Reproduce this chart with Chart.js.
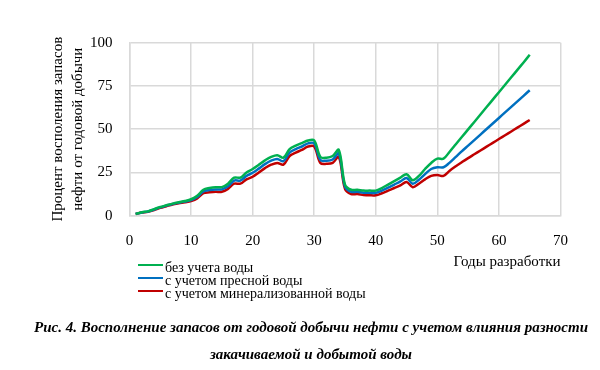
<!DOCTYPE html>
<html>
<head>
<meta charset="utf-8">
<script src="https://cdn.jsdelivr.net/npm/chart.js@4"></script>
<style>
  html, body { margin: 0; padding: 0; background: #fff; }
  #wrap { position: relative; width: 600px; height: 370px; }
  #c { position: absolute; left: 0; top: 0; }
  .legend { position: absolute; left: 138px; top: 260.5px; font-family: "Liberation Serif", "Times New Roman", serif; font-size: 14px; color: #000; }
  .legend .row { position: relative; height: 13.3px; line-height: 13.3px; white-space: nowrap; }
  .legend .sw { position: absolute; left: 0; top: 3px; width: 25px; height: 2px; }
  .legend .tx { position: absolute; left: 27px; top: 0; }
  .caption { position: absolute; left: 22px; width: 578px; top: 314px; text-align: center; font-family: "Liberation Serif", "Times New Roman", serif; font-weight: bold; font-style: italic; font-size: 15px; line-height: 27px; color: #000; }
</style>
</head>
<body>
<div id="wrap">
  <canvas id="c" width="600" height="370"></canvas>
  <div class="legend" id="legend"></div>
  <div class="caption">Рис. 4. Восполнение запасов от годовой добычи нефти с учетом влияния разности<br>закачиваемой и добытой воды</div>
</div>
<script>
const years = [1,2,3,4,5,6,7,8,9,10,11,12,13,14,15,16,17,18,19,20,21,22,23,24,25,26,27,28,29,30,31,32,33,34,35,36,37,38,39,40,41,42,43,44,45,46,47,48,49,50,51,52,53,54,55,56,57,58,59,60,61,62,63,64,65];

const seriesNames = ["без учета воды", "с учетом пресной воды", "с учетом минерализованной воды"];

const noWater = [1,2,2.5,3.8,5,6,7,7.8,8.5,9.5,11.5,15,16,16.5,16.5,18.5,22,22,25,27,29.5,32,34,35,33.5,38.5,40.5,42,43.5,43.5,34,33.5,34.5,38,18,15,15,14.5,14.5,14.5,16,18,20,22,24,20.5,23,27,30.5,33,33,37,41.3,45.6,49.9,54.2,58.5,62.8,67.1,71.4,75.7,80,84.3,88.6,93];

const freshWater = [1,1.9,2.4,3.6,4.8,5.8,6.8,7.5,8.2,9,10.8,14,14.8,15.2,15.2,17,20.3,20.3,23,24.8,27.2,29.8,31.8,32.8,31.5,36.5,38.5,40,41.8,41.8,32.2,31.8,32.5,36,16.8,13.8,13.8,13.3,13.2,13.2,14.5,16.2,18,19.8,21.8,18.5,20.8,24,27,28,28,30.7,34,37.3,40.5,43.7,46.9,50.1,53.3,56.5,59.7,62.9,66.1,69.3,72.5];

const mineralWater = [1,1.8,2.2,3.3,4.5,5.5,6.5,7.2,7.8,8.5,10,13,13.5,13.8,13.8,15.5,18.5,18.5,21,22.5,25,27.5,29.5,30.5,29.5,34.5,36.5,38,40,40,30.5,30,30.5,34,15.5,12.5,12.5,12,11.8,11.8,13,14.5,16,17.5,19.5,16.5,18.5,21,23,23.5,23,26,28.6,31,33.3,35.5,37.7,39.9,42.1,44.3,46.5,48.7,50.9,53.1,55.3];

const xTicks = [0,10,20,30,40,50,60,70];
const yTicks = [0,25,50,75,100];
const colors = ["#00B050", "#0070C0", "#C00000"];
const values = [noWater, freshWater, mineralWater];

const serif = "'Liberation Serif', 'Times New Roman', serif";
const gridColor = "#d9d9d9";

const datasets = values.map((v, i) => ({
  label: seriesNames[i],
  data: years.map((x, j) => ({x: x, y: v[j]})),
  borderColor: colors[i],
  backgroundColor: colors[i],
  borderWidth: 2.5,
  pointRadius: 0,
  tension: 0.35,
  fill: false
}));

new Chart(document.getElementById('c'), {
  type: 'line',
  data: { datasets },
  options: {
    responsive: false,
    animation: false,
    devicePixelRatio: 1,
    layout: { padding: { left: 40, right: 39.5, top: 42.7, bottom: 99.3 } },
    plugins: { legend: { display: false }, tooltip: { enabled: false } },
    scales: {
      x: {
        type: 'linear',
        min: 0, max: 70,
        afterBuildTicks: s => { s.ticks = xTicks.map(v => ({value: v})); },
        afterFit: s => { s.height = 55; },
        grid: { color: gridColor, lineWidth: 1.5, drawTicks: false },
        border: { color: gridColor, width: 1.5 },
        ticks: { color: '#000', font: { family: serif, size: 15 }, padding: 16, maxRotation: 0 },
        title: { display: true, text: 'Годы разработки', align: 'end', color: '#000', font: { family: serif, size: 15, lineHeight: 1.2 }, padding: { top: 0, bottom: 0 } }
      },
      y: {
        min: 0, max: 100,
        afterBuildTicks: s => { s.ticks = yTicks.map(v => ({value: v})); },
        afterFit: s => { s.width = 89.5; },
        grid: { color: gridColor, lineWidth: 1.5, drawTicks: false },
        border: { color: gridColor, width: 1.5 },
        ticks: { color: '#000', font: { family: serif, size: 15 }, padding: 17 },
        title: { display: true, text: ['Процент восполения запасов', 'нефти от годовой добычи'], color: '#000', font: { family: serif, size: 15, lineHeight: 1.3333 }, padding: { top: 8, bottom: 0 } }
      }
    }
  }
});

const leg = document.getElementById('legend');
seriesNames.forEach((n, i) => {
  const row = document.createElement('div');
  row.className = 'row';
  const sw = document.createElement('div');
  sw.className = 'sw';
  sw.style.background = colors[i];
  const tx = document.createElement('span');
  tx.className = 'tx';
  tx.textContent = n;
  row.appendChild(sw);
  row.appendChild(tx);
  leg.appendChild(row);
});
</script>
</body>
</html>
